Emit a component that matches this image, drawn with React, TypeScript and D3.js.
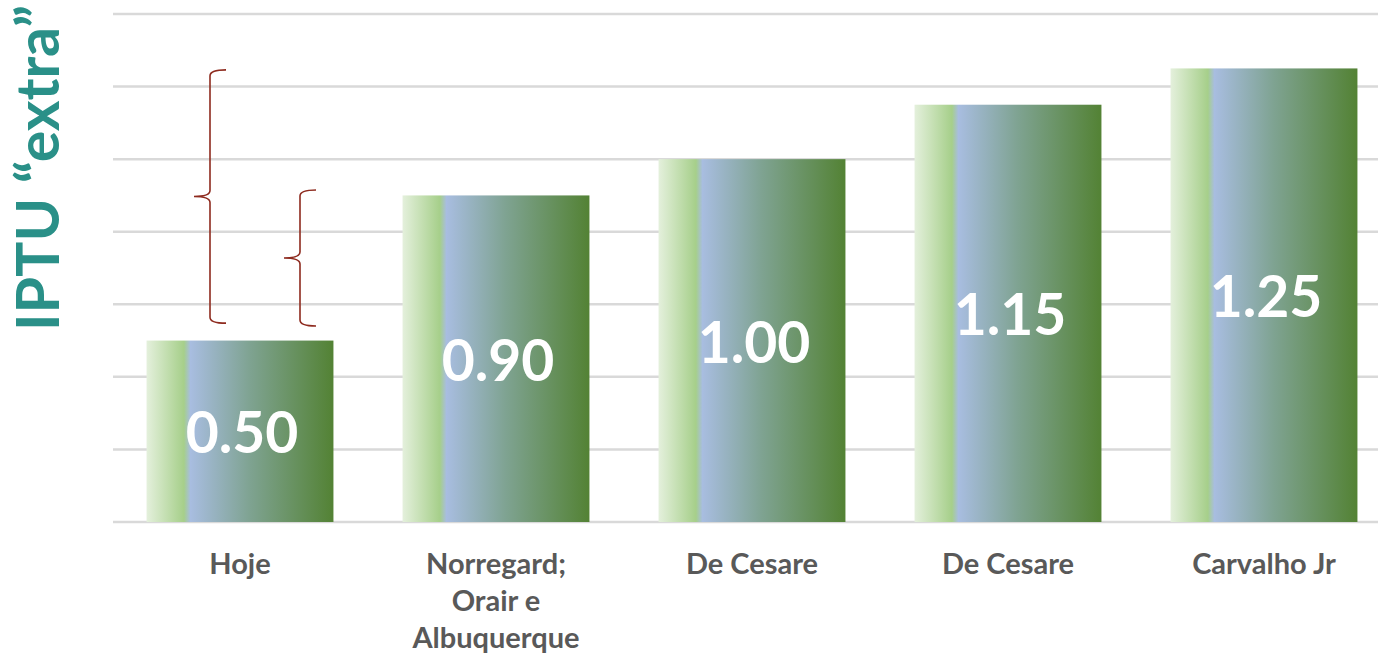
import React from "react";
import * as d3 from "d3";

const categories = ["Hoje", "Norregard;\nOrair e\nAlbuquerque", "De Cesare", "De Cesare ", "Carvalho Jr"];
const values = [0.5, 0.9, 1.0, 1.15, 1.25];
const labels = ["0.50", "0.90", "1.00", "1.15", "1.25"];
const yTicks = [0, 0.2, 0.4, 0.6, 0.8, 1.0, 1.2, 1.4];
const braces = [
  { x: 210, top: 1.246, bottom: 0.548 },
  { x: 300, top: 0.915, bottom: 0.54 },
];

const W = 1378;
const H = 656;

export default function App() {
  const x = d3.scaleBand<string>().domain(categories).range([112, 1392]).paddingInner(0.27).paddingOuter(0.135);
  const y = d3.scaleLinear().domain([0, 1.4]).range([522, 14]);
  const bw = x.bandwidth();

  return (
    <svg width={W} height={H} style={{ position: "absolute", left: 0, top: 0, display: "block" }}>
      <defs>
        <linearGradient id="barGrad" x1="0" x2="1" y1="0" y2="0">
          <stop offset="0" stopColor="#e4f0dc" />
          <stop offset="0.2" stopColor="#a6cf8a" />
          <stop offset="0.235" stopColor="#a8bde0" />
          <stop offset="0.55" stopColor="#7fa392" />
          <stop offset="1" stopColor="#538234" />
        </linearGradient>
      </defs>
      <rect width={W} height={H} fill="#fff" />
      {yTicks.map((t) => (
        <line key={t} x1={113} x2={W} y1={y(t)} y2={y(t)} stroke="#d9d9d9" strokeWidth={2.5} />
      ))}
      {categories.map((c, i) => (
        <g key={c}>
          <rect x={x(c)} y={y(values[i])} width={bw} height={y(0) - y(values[i])} fill="url(#barGrad)" />
          <text
            x={(x(c) as number) + bw / 2 + 2}
            y={(y(values[i]) + y(0)) / 2 + 22}
            textAnchor="middle"
            fill="#fff"
            fontFamily="Lato, sans-serif"
            fontWeight="bold"
            fontSize={57}
          >
            {labels[i]}
          </text>
          {c.split("\n").map((line, j) => (
            <text
              key={j}
              x={(x(c) as number) + bw / 2}
              y={574 + j * 37}
              textAnchor="middle"
              fill="#595959"
              fontFamily="Lato, sans-serif"
              fontWeight="bold"
              fontSize={29}
            >
              {line.trim()}
            </text>
          ))}
        </g>
      ))}
      {braces.map((b, i) => {
        const t = y(b.top);
        const bo = y(b.bottom);
        const m = (t + bo) / 2;
        const p = `M${b.x + 16},${t} Q${b.x},${t} ${b.x},${t + 6} L${b.x},${m - 6} Q${b.x},${m} ${b.x - 16},${m} Q${b.x},${m} ${b.x},${m + 6} L${b.x},${bo - 6} Q${b.x},${bo} ${b.x + 16},${bo}`;
        return <path key={i} d={p} fill="none" stroke="#8e2b1f" strokeWidth={1.6} />;
      })}
      <text
        transform={`translate(59,168) rotate(-90)`}
        textAnchor="middle"
        fill="#2a9088"
        fontFamily="Lato, sans-serif"
        fontWeight="bold"
        fontSize={59}
      >
        IPTU “extra”
      </text>
    </svg>
  );
}
